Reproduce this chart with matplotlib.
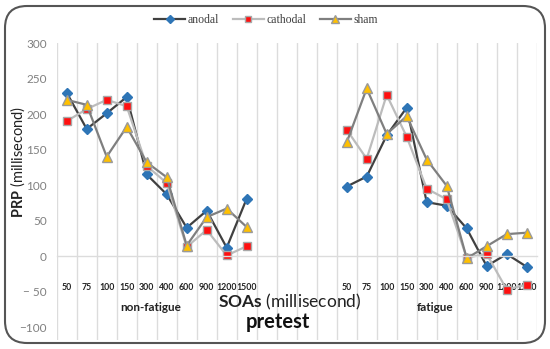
import numpy as np
import matplotlib
matplotlib.use("Agg")
import matplotlib.pyplot as plt
from matplotlib.patches import FancyBboxPatch

soas = ["50", "75", "100", "150", "300", "400", "600", "900", "1200", "1500"]
groups = ["non-fatigue", "fatigue"]

anodal_nf = [230, 179, 201, 224, 115, 87, 40, 64, 12, 81]
cathodal_nf = [190, 207, 220, 211, 127, 103, 13, 37, 1, 14]
sham_nf = [220, 213, 140, 182, 132, 111, 15, 55, 67, 41]

anodal_f = [98, 112, 170, 209, 76, 71, 39, -14, 3, -15]
cathodal_f = [178, 137, 227, 168, 95, 80, -2, 3, -47, -40]
sham_f = [160, 236, 172, 197, 136, 99, -3, 14, 31, 33]

plt.rcParams['font.family'] = ['Lato', 'DejaVu Sans']
plt.rcParams['mathtext.fontset'] = 'custom'
plt.rcParams['mathtext.rm'] = 'Lato'
plt.rcParams['mathtext.bf'] = 'Lato:bold'

fig = plt.figure(figsize=(5.5, 3.49), dpi=100)
W, H = 550, 349
ax = fig.add_axes([56.7 / W, 1 - 340 / H, 480 / W, (340 - 43) / H])

for s in ["left", "right", "top"]:
    ax.spines[s].set_visible(False)
ax.spines["bottom"].set_position(("data", 0))
ax.spines["bottom"].set_color("#dcdcdc")
ax.spines["bottom"].set_linewidth(1)
ax.set_axisbelow(True)

n = len(soas)
gap = 4
x_nf = np.arange(n)
x_f = np.arange(n) + n + gap

series = [
    ("anodal", anodal_nf, anodal_f, dict(color="#404040", marker="D", markersize=5,
                                          markerfacecolor="#2e75b6", markeredgecolor="#2e75b6")),
    ("cathodal", cathodal_nf, cathodal_f, dict(color="#bcbcbc", marker="s", markersize=6,
                                              markerfacecolor="#ff1010", markeredgecolor="#a8a8a8")),
    ("sham", sham_nf, sham_f, dict(color="#7f7f7f", marker="^", markersize=6.5,
                                  markerfacecolor="#ffc000", markeredgecolor="#9a9a9a")),
]
handles = []
for name, nf, f, st in series:
    h, = ax.plot(x_nf, nf, lw=1.6, label=name, **st)
    ax.plot(x_f, f, lw=1.6, **st)
    handles.append(h)

total = 2 * n + gap
ax.set_xlim(-0.5, total - 0.5)
ax.set_ylim(-118, 300)

ax.set_xticks(np.concatenate([x_nf, x_f]))
ax.set_xticklabels(soas + soas, fontsize=6.3, fontweight="bold", color="#222222")
ax.set_xticks(np.arange(-0.5, total, 1), minor=True)
ax.grid(which="minor", axis="x", color="#dcdcdc", lw=1)
ax.tick_params(axis="x", which="both", length=0, pad=19)

ax.set_yticks(np.arange(-100, 301, 50))
ax.set_yticklabels([str(v).replace("-", "\u2212 ") if v == -50 else str(v).replace("-", "\u2212")
                    for v in range(-100, 301, 50)], fontsize=8.5, color="#808080")
ax.tick_params(axis="y", length=0, pad=7)

# group labels
ax.text(4.2, -72, groups[0], ha="center", va="center", fontsize=8.5, fontweight="bold", color="#222222")
ax.text(18.4, -72, groups[1], ha="center", va="center", fontsize=8.5, fontweight="bold", color="#222222")

# x axis title
fig.text(290 / W, 1 - 302 / H, r"$\bf{SOAs}$ (millisecond)", ha="center", va="center",
         fontsize=12.5, color="#222222")
fig.text(278 / W, 1 - 322 / H, "pretest", ha="center", va="center", fontsize=14.5,
         fontweight="bold", color="#111111")

# y axis title
fig.text(18 / W, 1 - 162 / H, r"$\bf{PRP}$ (millisecond)", ha="center", va="center",
         rotation=90, fontsize=10.5, color="#222222")

leg = fig.legend(handles=handles, loc="center", bbox_to_anchor=(266 / W, 1 - 20 / H), ncol=3,
                 frameon=False, prop={"family": "Liberation Serif", "size": 8.5},
                 handlelength=2.6, columnspacing=1.2, handletextpad=0.2, labelcolor="#404040",
                 markerscale=0.8)

frame = FancyBboxPatch((5 / W, 6 / H), 540 / W, 337 / H, boxstyle="round,pad=0,rounding_size=0.04",
                       transform=fig.transFigure, fill=False, ec="#555555", lw=1.5,
                       mutation_aspect=W / H)
fig.patches.append(frame)

fig.savefig("out.png", dpi=100)
